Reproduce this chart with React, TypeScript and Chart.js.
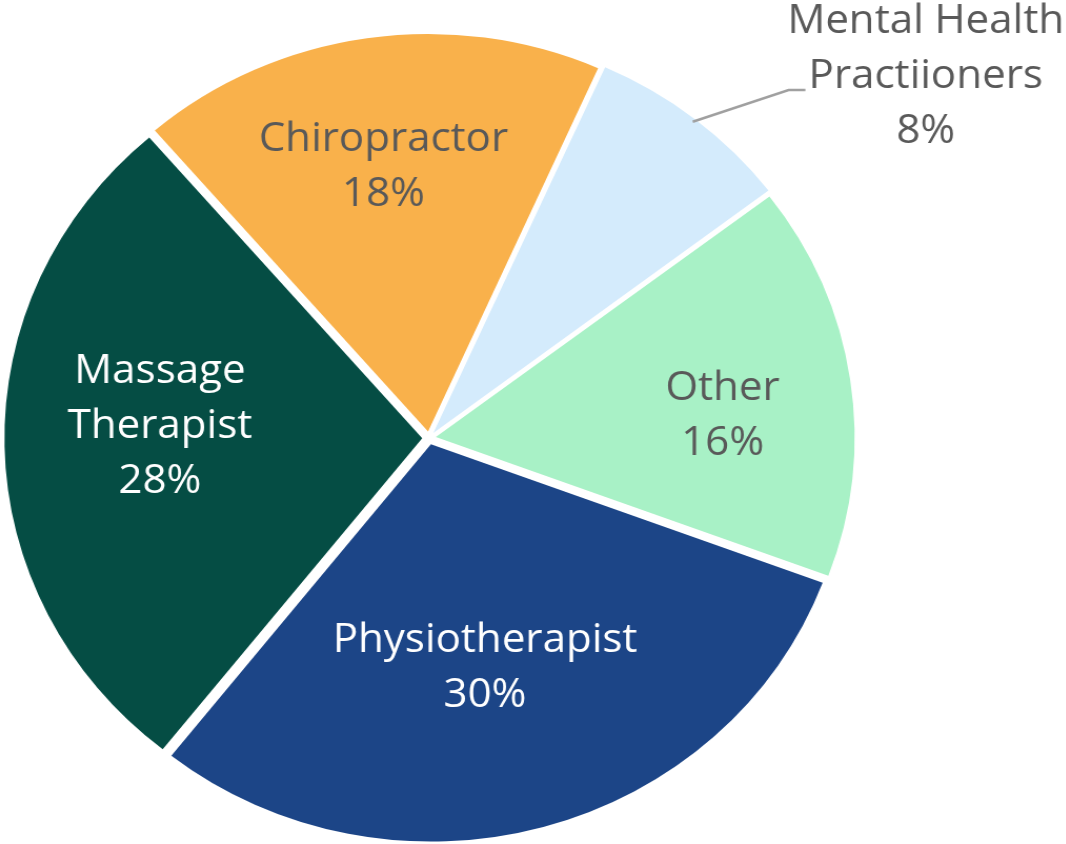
import React, { useEffect, useRef } from "react";
import { Chart, registerables } from "chart.js";

Chart.register(...registerables);

// ---- data ----
const categories = [
  "Mental Health Practiioners",
  "Other",
  "Physiotherapist",
  "Massage Therapist",
  "Chiropractor",
];
const labelLines = [
  ["Mental Health", "Practiioners"],
  ["Other"],
  ["Physiotherapist"],
  ["Massage", "Therapist"],
  ["Chiropractor"],
];
const shares = [8, 16, 30, 28, 18];

// ---- styles ----
const sliceColors = ["#D4EBFC", "#A8F1C6", "#1C4587", "#054D44", "#F9B14B"];
const textColors = ["#595959", "#595959", "#FFFFFF", "#FFFFFF", "#595959"];
const OFFSET = 26; // chart.js translates by offset / 4
const SX = 1.052; // horizontal stretch of the picture
const CW = 1060;
const CH = 900;
const FONT = '40px "Open Sans"';
const LINE_H = 55;
// label placement: angle delta (deg) from slice bisector, radial fraction of radius
const labelDelta = [14.2, 3.9, 2.6, 3.7, -0.7];
const labelRadial = [1.497, 0.705, 0.596, 0.645, 0.69];

const labelPlugin = {
  id: "sliceLabels",
  afterDatasetsDraw(chart: any) {
    const ctx = chart.ctx as CanvasRenderingContext2D;
    const meta = chart.getDatasetMeta(0);
    ctx.save();
    ctx.font = FONT;
    ctx.textAlign = "center";
    ctx.textBaseline = "middle";
    meta.data.forEach((arc: any, i: number) => {
      const p = arc.getProps(["x", "y", "startAngle", "endAngle", "outerRadius"], true);
      const mid = (p.startAngle + p.endAngle) / 2;
      const ang = mid + (labelDelta[i] * Math.PI) / 180;
      const r = p.outerRadius * labelRadial[i];
      const lx = p.x + Math.cos(ang) * r;
      const ly = p.y + Math.sin(ang) * r;
      const lines = [...labelLines[i], shares[i] + "%"];
      const top = ly - ((lines.length - 1) * LINE_H) / 2;
      ctx.fillStyle = textColors[i];
      lines.forEach((t, j) => ctx.fillText(t, lx, top + j * LINE_H));
      if (labelRadial[i] > 1) {
        // leader line
        const shift = OFFSET / 4;
        const sx = p.x + Math.cos(mid) * (p.outerRadius + shift);
        const sy = p.y + Math.sin(mid) * (p.outerRadius + shift);
        const w = ctx.measureText(lines[1]).width;
        const ex = lx - w / 2 - 3;
        const ey = top + LINE_H + 13;
        ctx.strokeStyle = "#A0A0A0";
        ctx.lineWidth = 2.5;
        ctx.beginPath();
        ctx.moveTo(sx, sy);
        ctx.lineTo(ex - 16, ey);
        ctx.lineTo(ex, ey);
        ctx.stroke();
      }
    });
    ctx.restore();
  },
};

export default function App() {
  const ref = useRef<HTMLCanvasElement>(null);
  useEffect(() => {
    const chart = new Chart(ref.current!, {
      type: "pie",
      data: {
        labels: categories,
        datasets: [
          {
            data: shares,
            backgroundColor: sliceColors,
            borderWidth: 0,
            hoverBorderWidth: 0,
            offset: OFFSET,
            hoverOffset: 0,
          },
        ],
      },
      options: {
        responsive: false,
        animation: false,
        devicePixelRatio: 1,
        rotation: 24,
        layout: { padding: { top: 48, bottom: 32, left: 17.8, right: 222.2 } },
        plugins: {
          legend: { display: false },
          tooltip: { enabled: false },
        },
        events: [],
      },
      plugins: [labelPlugin],
    });
    return () => chart.destroy();
  }, []);
  return (
    <div
      style={{
        position: "fixed",
        left: 0,
        top: 0,
        width: 1066,
        height: 844,
        overflow: "hidden",
        background: "#ffffff",
      }}
    >
      <div
        style={{
          position: "absolute",
          left: -21,
          top: -20,
          width: CW,
          height: CH,
          transform: `scaleX(${SX})`,
          transformOrigin: "0 0",
        }}
      >
        <canvas
          ref={ref}
          width={CW}
          height={CH}
          style={{ width: CW, height: CH, display: "block" }}
        />
      </div>
    </div>
  );
}
